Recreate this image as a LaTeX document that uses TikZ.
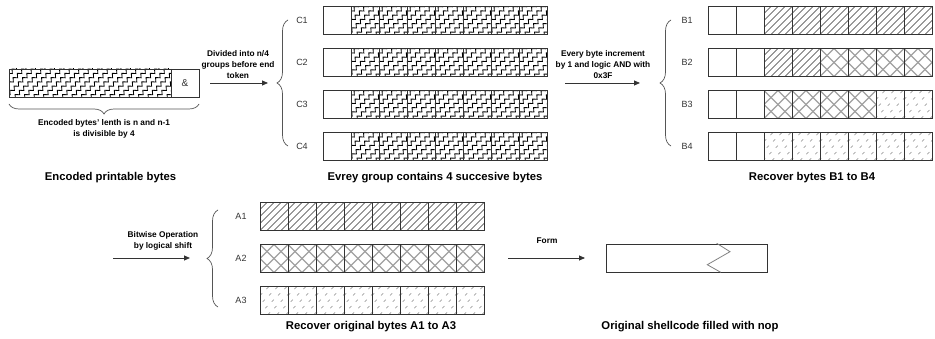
\documentclass[tikz,border=0pt]{standalone}
\usepackage{fontspec}
\setmainfont{Liberation Sans}
\usetikzlibrary{decorations.pathmorphing,decorations.pathreplacing,arrows.meta}

\definecolor{ln}{HTML}{333333}
\definecolor{hatchgray}{HTML}{A0A0A0}
\definecolor{bracegray}{HTML}{555555}

\tikzset{
  cellborder/.style={draw=ln, line width=0.8pt},
  hatchL/.style={draw=ln, line width=0.5pt},
  hatchX/.style={draw=hatchgray, line width=1.1pt},
  hatchD/.style={draw=hatchgray!85!black, line width=0.6pt, dash pattern=on 3pt off 6pt},
  hatchZ/.style={draw=black, line width=0.85pt, decorate,
    decoration={zigzag, segment length=6pt, amplitude=1.7pt}},
  lbl/.style={font=\fontsize{8.3}{11}\selectfont\bfseries, align=center, text=black, inner sep=0},
  rowlbl/.style={font=\fontsize{9}{10}\selectfont, text=ln, inner sep=0},
  title/.style={font=\fontsize{11.3}{13}\selectfont\bfseries, text=black, inner sep=0},
  flow/.style={draw=ln, line width=0.8pt, -{Triangle[length=6pt,width=5pt]}},
  bracel/.style={draw=bracegray, line width=0.7pt, decorate},
  rowbox/.style={draw=none, inner sep=0, minimum height=28, anchor=north west},
}

% fills: x, y(top), width ; row height 28
\newcommand{\fillW}[3]{}
\newcommand{\fillL}[3]{\begin{scope}\clip (#1,#2) rectangle ++(#3,28);
  \foreach \k in {-28,-21,...,#3}{\draw[hatchL] ({#1+\k},{#2+28}) -- ++(28,-28);}\end{scope}}
\newcommand{\fillX}[3]{\begin{scope}\clip (#1,#2) rectangle ++(#3,28);
  \foreach \k in {-28,-14,...,#3}{\draw[hatchX] ({#1+\k},{#2+28}) -- ++(28,-28);
    \draw[hatchX] ({#1+\k},{#2}) -- ++(28,28);}\end{scope}}
\newcommand{\fillD}[3]{\begin{scope}\clip (#1,#2) rectangle ++(#3,28);
  \foreach \k in {-28,-19,...,#3}{\draw[hatchD] ({#1+\k},{#2+28}) -- ++(28,-28);}\end{scope}}
\newcommand{\fillZ}[3]{\begin{scope}\clip (#1,#2) rectangle ++(#3,28);
  \foreach \k in {-36,-26.5,...,#3}{\draw[hatchZ] ({#1+\k},{#2+32}) -- ++(36,-36);}\end{scope}}

\newcommand{\cellrow}[3]{%
  \foreach \ty [count=\i from 0] in {#3}{%
    \pgfmathsetmacro{\cx}{#1+28*\i}%
    \csname fill\ty\endcsname{\cx}{#2}{28}%
    \draw[cellborder] (\cx,#2) rectangle ++(28,28);
  }}

\begin{document}
\begin{tikzpicture}[x=1pt,y=-1pt]
\useasboundingbox (0,0) rectangle (935,339);

% ---------- Encoded bar ----------
\fillZ{9}{69}{162}
\node[rowbox, minimum width=190] (enc) at (9,69) {};
\draw[cellborder] (9,69) rectangle (199,97);
\draw[cellborder] (171,69) -- (171,97);
\node[font=\fontsize{10}{12}\selectfont, text=ln] (amp) at (185,83) {\&};
\draw[bracel, decoration={brace, amplitude=10pt, mirror}] (9,104) -- (199,104);
\node[lbl] (enctxt) at (104,128.5) {Encoded bytes' lenth is n and n-1\\is divisible by 4};
\node[title] (t1) at (110.5,178) {Encoded printable bytes};

% ---------- arrow 1 ----------
\coordinate (a1s) at (210,83);
\coordinate (a1e) at (268,83);
\draw[flow] (a1s) -- (a1e);
\node[lbl] (a1l) at (238,65) {Divided into n/4\\groups before end\\token};

% ---------- C rows ----------
\draw[bracel, decoration={brace, amplitude=11pt}] (288,146) -- (288,20);
\foreach \r/\yy in {1/6.5,2/48.5,3/90.5,4/132.5}{
  \cellrow{323}{\yy}{W,Z,Z,Z,Z,Z,Z,Z}
  \node[rowbox, minimum width=224] (C\r) at (323,\yy) {};
  \node[rowlbl] (C\r l) at (302,\yy+14) {C\r};
}
\node[title] (t2) at (435,178) {Evrey group contains 4 succesive bytes};

% ---------- arrow 2 ----------
\coordinate (a2s) at (565,83);
\coordinate (a2e) at (640,83);
\draw[flow] (a2s) -- (a2e);
\node[lbl] (a2l) at (603,65) {Every byte increment\\by 1 and logic AND with\\0x3F};

% ---------- B rows ----------
\draw[bracel, decoration={brace, amplitude=11pt}] (671,146) -- (671,20);
\cellrow{708}{6.5}{W,W,L,L,L,L,L,L}
\cellrow{708}{48.5}{W,W,L,L,X,X,X,X}
\cellrow{708}{90.5}{W,W,X,X,X,X,D,D}
\cellrow{708}{132.5}{W,W,D,D,D,D,D,D}
\foreach \r/\yy in {1/6.5,2/48.5,3/90.5,4/132.5}{
  \node[rowbox, minimum width=224] (B\r) at (708,\yy) {};
  \node[rowlbl] (B\r l) at (687,\yy+14) {B\r};
}
\node[title] (t3) at (812,178) {Recover bytes B1 to B4};

% ---------- arrow 3 ----------
\coordinate (a3s) at (113,258);
\coordinate (a3e) at (190,258);
\draw[flow] (a3s) -- (a3e);
\node[lbl] (a3l) at (163,240.5) {Bitwise Operation\\by logical shift};

% ---------- A rows ----------
\draw[bracel, decoration={brace, amplitude=11pt}] (218,307) -- (218,210);
\cellrow{260}{202.5}{L,L,L,L,L,L,L,L}
\cellrow{260}{244.5}{X,X,X,X,X,X,X,X}
\cellrow{260}{286.5}{D,D,D,D,D,D,D,D}
\foreach \r/\yy in {1/202.5,2/244.5,3/286.5}{
  \node[rowbox, minimum width=224] (A\r) at (260,\yy) {};
  \node[rowlbl] (A\r l) at (241,\yy+14) {A\r};
}
\node[title] (t4) at (371,327) {Recover original bytes A1 to A3};

% ---------- arrow 4 ----------
\coordinate (a4s) at (508,258);
\coordinate (a4e) at (585,258);
\draw[flow] (a4s) -- (a4e);
\node[lbl] (a4l) at (547,241) {Form};

% ---------- shellcode ----------
\node[rowbox, minimum width=161, draw=ln, line width=0.8pt] (sc) at (606,244) {};
\draw[draw=gray, line width=0.8pt] (716.7,243.3) -- (730,251.7) -- (707.3,264.7) -- (720.7,272.3);
\node[title] (t5) at (690,327) {Original shellcode filled with nop};
\end{tikzpicture}
\end{document}
